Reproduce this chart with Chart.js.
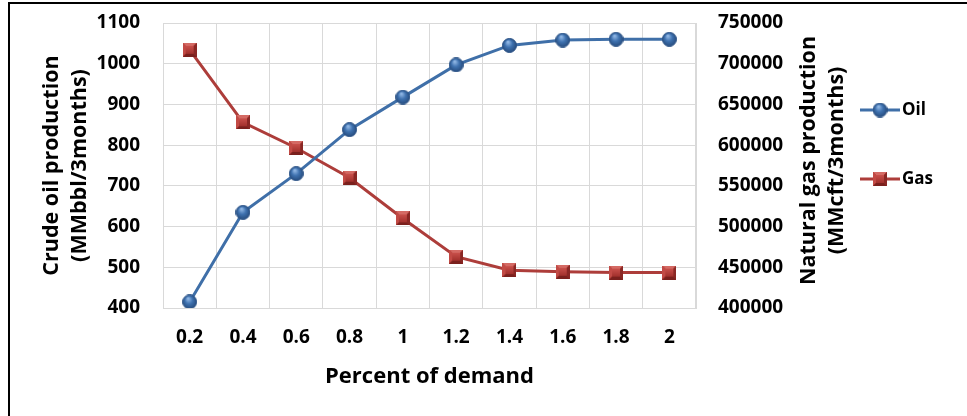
<!DOCTYPE html>
<html>
<head>
<meta charset="utf-8">
<script src="https://cdn.jsdelivr.net/npm/chart.js@4.4.1/dist/chart.umd.min.js"></script>
<style>
  html, body { margin: 0; padding: 0; background: #fff; }
  #wrap { position: relative; width: 967px; height: 416px; }
  #frame { position: absolute; left: 8px; top: 2px; right: 0; bottom: 0;
           border-top: 2px solid #000; border-left: 2px solid #000; pointer-events: none; }
  canvas { position: absolute; left: 0; top: 0; }
</style>
</head>
<body>
<div id="wrap">
  <canvas id="chart" width="967" height="416"></canvas>
  <div id="frame"></div>
</div>
<script>
// Demand multiplier on the x axis
const demand = ['0.2', '0.4', '0.6', '0.8', '1', '1.2', '1.4', '1.6', '1.8', '2'];
// Crude oil production, MMbbl per 3 months
const oil = [415, 635, 730, 838, 918, 997, 1045, 1058, 1060, 1060];
// Natural gas production, MMcft per 3 months
const gas = [717000, 628000, 596500, 560000, 510000, 463000, 446500, 444500, 443500, 443500];

const oilTitle = ['Crude oil production', '(MMbbl/3months)'];
const gasTitle = ['Natural gas production', '(MMcft/3months)'];
const xTitle = 'Percent of demand';

const FONT = '"Open Sans", Lato, sans-serif';
const OIL_LINE = '#3f6fa8';
const GAS_LINE = '#ad3d3a';

// Glossy round marker
function makeBall(d) {
  const c = document.createElement('canvas');
  c.width = d; c.height = d;
  const g = c.getContext('2d');
  const r = d / 2;
  const grad = g.createRadialGradient(r * 0.8, r * 0.55, r * 0.1, r, r, r);
  grad.addColorStop(0, '#8db4e2');
  grad.addColorStop(0.45, '#3f72b0');
  grad.addColorStop(1, '#24497a');
  g.beginPath();
  g.arc(r, r, r - 0.5, 0, Math.PI * 2);
  g.fillStyle = grad;
  g.fill();
  g.lineWidth = 1;
  g.strokeStyle = '#2d5487';
  g.stroke();
  return c;
}

// Bevelled square marker
function makeBox(s) {
  const c = document.createElement('canvas');
  c.width = s; c.height = s;
  const g = c.getContext('2d');
  g.fillStyle = '#a8332f';
  g.fillRect(0, 0, s, s);
  const b = 3;
  g.fillStyle = '#d46a64';
  g.beginPath(); g.moveTo(0, 0); g.lineTo(s, 0); g.lineTo(s - b, b); g.lineTo(b, b); g.closePath(); g.fill();
  g.fillStyle = '#c24a45';
  g.beginPath(); g.moveTo(0, 0); g.lineTo(b, b); g.lineTo(b, s - b); g.lineTo(0, s); g.closePath(); g.fill();
  g.fillStyle = '#8a2724';
  g.beginPath(); g.moveTo(s, 0); g.lineTo(s, s); g.lineTo(s - b, s - b); g.lineTo(s - b, b); g.closePath(); g.fill();
  g.fillStyle = '#7a201d';
  g.beginPath(); g.moveTo(0, s); g.lineTo(s, s); g.lineTo(s - b, s - b); g.lineTo(b, s - b); g.closePath(); g.fill();
  const grad = g.createLinearGradient(0, b, 0, s - b);
  grad.addColorStop(0, '#c9504b');
  grad.addColorStop(1, '#a1302c');
  g.fillStyle = grad;
  g.fillRect(b, b, s - 2 * b, s - 2 * b);
  return c;
}

const ball = makeBall(15);
const box = makeBox(14);

// Right-hand axis title (reads bottom to top) and the side legend
const extras = {
  id: 'extras',
  afterDraw(chart) {
    const { ctx, chartArea } = chart;
    ctx.save();
    ctx.fillStyle = '#000';
    ctx.font = 'bold 21.5px ' + FONT;
    ctx.textAlign = 'center';
    ctx.textBaseline = 'middle';
    const cy = (chartArea.top + chartArea.bottom) / 2 - 5;
    gasTitle.forEach((t, i) => {
      ctx.save();
      ctx.translate(chartArea.right + 113 + i * 28, cy);
      ctx.rotate(-Math.PI / 2);
      ctx.fillText(t, 0, 0);
      ctx.restore();
    });

    const items = [
      { label: 'Oil', color: OIL_LINE, img: ball, y: 110 },
      { label: 'Gas', color: GAS_LINE, img: box, y: 179 }
    ];
    const x0 = chartArea.right + 164;
    items.forEach(it => {
      ctx.strokeStyle = it.color;
      ctx.lineWidth = 3;
      ctx.beginPath();
      ctx.moveTo(x0, it.y);
      ctx.lineTo(x0 + 40, it.y);
      ctx.stroke();
      ctx.drawImage(it.img, x0 + 20 - it.img.width / 2, it.y - it.img.height / 2);
      ctx.font = 'bold 17px ' + FONT;
      ctx.textAlign = 'left';
      ctx.fillStyle = '#000';
      ctx.fillText(it.label, x0 + 42, it.y);
    });
    ctx.restore();
  }
};

const grid = '#d9d9d9';
const tickFont = { family: FONT, size: 19, weight: 'bold' };
const plain = v => String(v);

new Chart(document.getElementById('chart'), {
  type: 'line',
  data: {
    labels: demand,
    datasets: [
      {
        label: 'Oil', data: oil, yAxisID: 'yOil',
        borderColor: OIL_LINE, borderWidth: 3,
        pointStyle: ball, pointRadius: 7, pointHoverRadius: 7,
        tension: 0
      },
      {
        label: 'Gas', data: gas, yAxisID: 'yGas',
        borderColor: GAS_LINE, borderWidth: 3,
        pointStyle: box, pointRadius: 7, pointHoverRadius: 7,
        tension: 0
      }
    ]
  },
  options: {
    responsive: false,
    animation: false,
    events: [],
    layout: { padding: { top: 23, right: 0, bottom: 0, left: 0 } },
    plugins: { legend: { display: false }, tooltip: { enabled: false } },
    scales: {
      x: {
        offset: true,
        grid: { color: grid, offset: true, drawTicks: true, tickLength: 15, tickColor: 'rgba(0,0,0,0)' },
        border: { color: grid },
        ticks: { color: '#000', font: tickFont, padding: 3 },
        title: { display: true, text: xTitle, color: '#000',
                 font: { family: FONT, size: 22, weight: 'bold' }, padding: { bottom: 26 } },
        afterFit(s) { s.height = 108; }
      },
      yOil: {
        position: 'left', min: 400, max: 1100,
        grid: { color: grid, drawTicks: true, tickLength: 20, tickColor: 'rgba(0,0,0,0)' },
        border: { color: grid },
        ticks: { stepSize: 100, color: '#000', font: tickFont, padding: 3, callback: plain },
        title: { display: true, text: oilTitle, color: '#000',
                 font: { family: FONT, size: 21.5, weight: 'bold', lineHeight: 1.3 }, padding: { top: 38 } },
        afterFit(s) { s.width = 163; }
      },
      yGas: {
        position: 'right', min: 400000, max: 750000,
        grid: { display: false, drawTicks: true, tickLength: 19, tickColor: 'rgba(0,0,0,0)' },
        border: { color: grid },
        ticks: { stepSize: 50000, color: '#000', font: tickFont, padding: 3, callback: plain },
        afterFit(s) { s.width = 271; }
      }
    }
  },
  plugins: [extras]
});
</script>
</body>
</html>
